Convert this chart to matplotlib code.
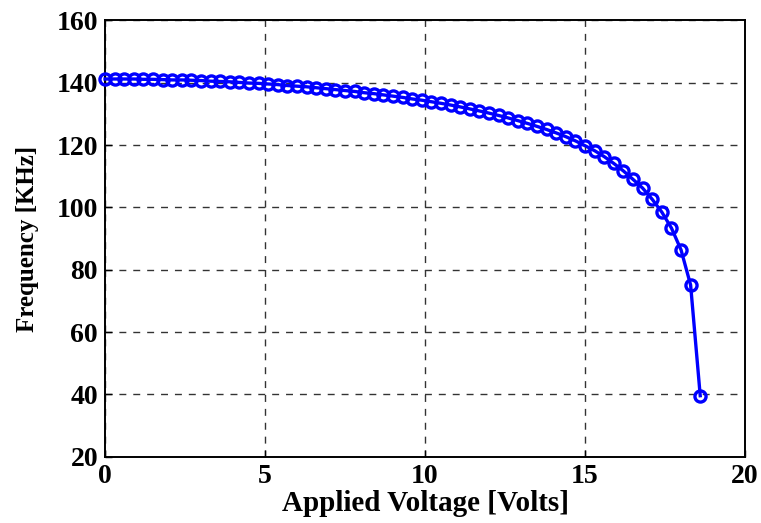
import matplotlib
matplotlib.use("Agg")
import matplotlib.pyplot as plt

# applied voltage (V) and resonant frequency (kHz)
voltage = [0.0, 0.3, 0.6, 0.9, 1.2, 1.5, 1.8, 2.1, 2.4, 2.7,
           3.0, 3.3, 3.6, 3.9, 4.2, 4.5, 4.8, 5.1, 5.4, 5.7,
           6.0, 6.3, 6.6, 6.9, 7.2, 7.5, 7.8, 8.1, 8.4, 8.7,
           9.0, 9.3, 9.6, 9.9, 10.2, 10.5, 10.8, 11.1, 11.4, 11.7,
           12.0, 12.3, 12.6, 12.9, 13.2, 13.5, 13.8, 14.1, 14.4, 14.7,
           15.0, 15.3, 15.6, 15.9, 16.2, 16.5, 16.8, 17.1, 17.4, 17.7,
           18.0, 18.3, 18.6]
freq = [141.2, 141.2, 141.2, 141.2, 141.1, 141.1, 141.0, 140.9, 140.9, 140.8,
        140.7, 140.5, 140.4, 140.3, 140.1, 139.9, 139.8, 139.6, 139.4, 139.1,
        138.9, 138.7, 138.4, 138.1, 137.8, 137.5, 137.2, 136.8, 136.5, 136.1,
        135.7, 135.3, 134.8, 134.4, 133.9, 133.4, 132.85, 132.25, 131.6, 130.95,
        130.25, 129.5, 128.7, 127.85, 126.95, 126.0, 125.0, 123.9, 122.7, 121.35,
        119.8, 118.2, 116.3, 114.1, 111.7, 109.0, 106.2, 102.6, 98.5, 93.4,
        86.4, 75.1, 39.6]

xticks = [0, 5, 10, 15, 20]
yticks = [20, 40, 60, 80, 100, 120, 140, 160]

plt.rcParams['font.family'] = ['Liberation Serif', 'DejaVu Serif']
plt.rcParams['font.weight'] = 'bold'

fig = plt.figure(figsize=(7.61, 5.23), dpi=100)
ax = fig.add_axes([0.138, 0.1266, 0.841, 0.8344])

ax.plot(voltage, freq, color='#0000ff', linewidth=2.4, marker='o',
        markersize=8, markerfacecolor='none', markeredgecolor='#0000ff',
        markeredgewidth=2.4, clip_on=False, zorder=3)

ax.set_xlim(0, 20)
ax.set_ylim(20, 160)
ax.set_xticks(xticks)
ax.set_yticks(yticks)
ax.tick_params(direction='in', length=5, width=1, labelsize=20, pad=5)
for lab in ax.get_xticklabels() + ax.get_yticklabels():
    lab.set_fontweight('bold')

ax.grid(True, color='#333333', linestyle=(0, (5, 5)), linewidth=1.0)
for sp in ax.spines.values():
    sp.set_linewidth(1.4)

ax.set_xlabel('Applied Voltage [Volts]', fontsize=21, fontweight='bold', labelpad=1)
ax.set_ylabel('Frequency [KHz]', fontsize=18, fontweight='bold', labelpad=13)

fig.savefig('out.png', dpi=100)
